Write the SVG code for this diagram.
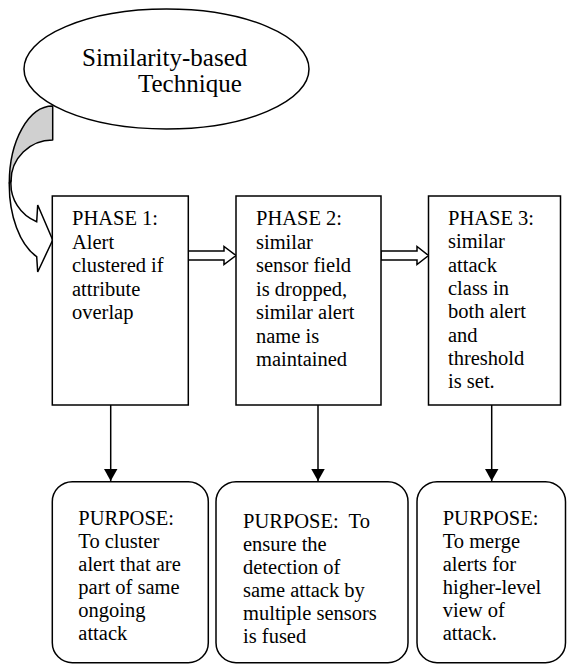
<svg xmlns="http://www.w3.org/2000/svg" width="567" height="664" viewBox="0 0 567 664">
<defs>
<style>
text{font-family:"Liberation Serif","Tinos","Times New Roman","DejaVu Serif",serif;font-size:20.5px;fill:#000}
.big{font-size:25px}
.box{fill:#fff;stroke:#000;stroke-width:1.5}
.ln{fill:none;stroke:#000;stroke-width:1.5}
.hollow{fill:#fff;stroke:#000;stroke-width:1.5;stroke-linejoin:miter}
</style>
<marker id="ah" markerWidth="12.5" markerHeight="14" refX="12.5" refY="7" orient="auto" markerUnits="userSpaceOnUse">
<path d="M0,0 L12.5,7 L0,14 Z" fill="#000"/>
</marker>
</defs>
<rect width="567" height="664" fill="#fff"/>

<g id="curved-arrow">
<path d="M52.7,106 A43.4,77 0 0 0 9.3,183 L11,181 A41.7,41 0 0 1 52.7,140 Z" fill="#d0d0d0" stroke="#000" stroke-width="1.5" stroke-linejoin="round"/>
<path d="M11,181 A41.7,41 0 0 0 36.7,221.7 L37.7,205 L52.7,240 L37.7,272 L36.7,256.7 A43.4,77 0 0 1 9.3,183 Z" fill="#fff" stroke="#000" stroke-width="1.5" stroke-linejoin="miter"/>
</g>

<g id="technique">
<ellipse cx="166.5" cy="69" rx="142.5" ry="60" class="box"/>
<text class="big" x="82" y="66" font-family="Liberation Serif, serif">Similarity-based</text>
<text class="big" x="138" y="92" font-family="Liberation Serif, serif">Technique</text>
</g>

<g id="connectors">
<path class="hollow" d="M188,251 L224,251 L224,246.5 L236,255.5 L224,264.5 L224,260 L188,260 Z"/>
<path class="hollow" d="M381,251 L417,251 L417,246.5 L428.5,255.5 L417,264.5 L417,260 L381,260 Z"/>
<line class="ln" x1="110.7" y1="405" x2="110.7" y2="481" marker-end="url(#ah)"/>
<line class="ln" x1="318" y1="405" x2="318" y2="481" marker-end="url(#ah)"/>
<line class="ln" x1="491.7" y1="405" x2="491.7" y2="481" marker-end="url(#ah)"/>
</g>

<g id="phase1">
<rect class="box" x="52.3" y="196" width="136" height="209"/>
<text x="72" y="225">PHASE 1:</text>
<text x="72" y="248.5">Alert</text>
<text x="72" y="272">clustered if</text>
<text x="72" y="295.5">attribute</text>
<text x="72" y="319">overlap</text>
</g>

<g id="phase2">
<rect class="box" x="236" y="196" width="145" height="209"/>
<text x="256" y="225">PHASE 2:</text>
<text x="256" y="248.5">similar</text>
<text x="256" y="272">sensor field</text>
<text x="256" y="295.5">is dropped,</text>
<text x="256" y="319">similar alert</text>
<text x="256" y="342.5">name is</text>
<text x="256" y="366">maintained</text>
</g>

<g id="phase3">
<rect class="box" x="428.5" y="196" width="132" height="209"/>
<text x="448" y="225">PHASE 3:</text>
<text x="448" y="248.3">similar</text>
<text x="448" y="271.6">attack</text>
<text x="448" y="295">class in</text>
<text x="448" y="318.3">both alert</text>
<text x="448" y="341.6">and</text>
<text x="448" y="365">threshold</text>
<text x="448" y="388.3">is set.</text>
</g>

<g id="purpose1">
<rect class="box" x="52.3" y="481.7" width="156" height="181" rx="20" ry="20"/>
<text x="78.3" y="525">PURPOSE:</text>
<text x="78.3" y="548">To cluster</text>
<text x="78.3" y="571">alert that are</text>
<text x="78.3" y="594">part of same</text>
<text x="78.3" y="617">ongoing</text>
<text x="78.3" y="640">attack</text>
</g>

<g id="purpose2">
<rect class="box" x="216" y="481.7" width="192" height="181" rx="20" ry="20"/>
<text x="243" y="528" xml:space="preserve">PURPOSE:  To</text>
<text x="243" y="551">ensure the</text>
<text x="243" y="574">detection of</text>
<text x="243" y="597">same attack by</text>
<text x="243" y="620">multiple sensors</text>
<text x="243" y="643">is fused</text>
</g>

<g id="purpose3">
<rect class="box" x="417" y="481.7" width="148.5" height="181" rx="20" ry="20"/>
<text x="442.7" y="525">PURPOSE:</text>
<text x="442.7" y="548">To merge</text>
<text x="442.7" y="571">alerts for</text>
<text x="442.7" y="594">higher-level</text>
<text x="442.7" y="617">view of</text>
<text x="442.7" y="640">attack.</text>
</g>
</svg>
